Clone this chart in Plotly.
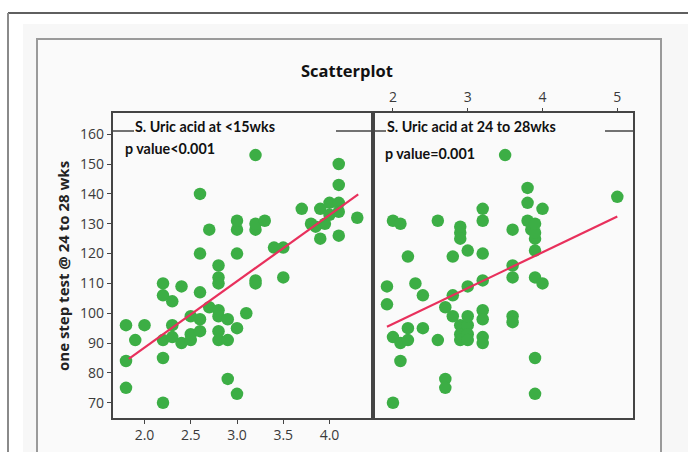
import plotly.graph_objects as go

W, H = 688, 452

# ---------------- data ----------------
left_x = [1.8, 2.0, 1.9, 1.8, 1.8,
          2.2, 2.2, 2.2, 2.2, 2.2,
          2.3, 2.3, 2.3,
          2.4, 2.4,
          2.5, 2.5, 2.5,
          2.6, 2.6, 2.6, 2.6, 2.6,
          2.7, 2.7,
          2.8, 2.8, 2.8, 2.8, 2.8, 2.8, 2.8,
          2.9, 2.9, 2.9,
          3.0, 3.0, 3.0, 3.0, 3.0,
          3.1,
          3.2, 3.2, 3.2, 3.2, 3.2,
          3.3,
          3.4, 3.5, 3.5,
          3.7, 3.8, 3.85, 3.9, 3.9, 3.95, 4.0, 4.0, 4.1, 4.1, 4.1, 4.1, 4.1, 4.3]
left_y = [96, 96, 91, 84, 75,
          70, 85, 91, 110, 106,
          104, 96, 92,
          109, 90,
          99, 91, 93,
          120, 107, 98, 94, 140,
          128, 102,
          116, 112, 110, 101, 99, 94, 91,
          98, 91, 78,
          73, 95, 120, 128, 131,
          100,
          111, 110, 128, 130, 153,
          131,
          122, 122, 112,
          135, 130, 129, 135, 125, 130, 137, 133, 137, 134, 126, 143, 150, 132]

right_x = [1.92, 1.92, 2.0, 2.1, 2.2, 2.2, 2.1, 2.0, 2.2, 2.3, 2.4, 2.4, 2.6, 2.7, 2.7, 2.7,
           2.8, 2.8, 2.8,
           2.9, 2.9, 2.9, 3.0, 3.0, 3.0,
           2.9, 2.9, 2.9, 3.0, 3.0, 3.0,
           3.2, 3.2, 3.2, 3.2, 3.2, 3.2, 3.2, 3.2,
           3.6, 3.6, 3.6, 3.6, 3.6,
           3.9, 3.9, 3.9, 4.0, 3.9, 3.9, 3.85, 3.9,
           2.6, 2.0, 2.1, 3.5, 3.8, 3.8, 4.0, 5.0, 3.8, 3.9]
right_y = [109, 103, 92, 90, 91, 95, 84, 70, 119, 110, 106, 95, 91, 78, 75, 102,
           99, 106, 119,
           96, 93, 91, 96, 93, 91,
           127, 125, 129, 121, 109, 99,
           120, 111, 101, 98, 92, 90, 135, 131,
           128, 116, 112, 99, 97,
           85, 73, 112, 110, 121, 125, 128, 127,
           131, 131, 130, 153, 142, 137, 135, 139, 131, 130]

# fitted regression lines (end points)
left_fit_x = [1.83, 4.31]
left_fit_y = [84.7, 139.8]
right_fit_x = [1.92, 5.0]
right_fit_y = [95.5, 132.4]

left_ticks = [2.0, 2.5, 3.0, 3.5, 4.0]
left_ticktext = ["2.0", "2.5", "3.0", "3.5", "4.0"]
right_ticks = [2, 3, 4, 5]
y_ticks = [70, 80, 90, 100, 110, 120, 130, 140, 150, 160]

title = "Scatterplot"
y_title = "one step test @ 24 to 28 wks"
left_label = "S. Uric acid at &lt;15wks"
left_p = "p value&lt;0.001"
right_label = "S. Uric acid at 24 to 28wks"
right_p = "p value=0.001"

GREEN = "#3cae45"
RED = "#e8305c"
AXC = "#444444"


def px(x):
    return x / W


def py(y):
    return 1 - y / H


fig = go.Figure()

mk = dict(color=GREEN, size=12.5, line=dict(width=0))
fig.add_trace(go.Scatter(x=left_x, y=left_y, mode="markers", marker=mk,
                         xaxis="x", yaxis="y", showlegend=False, hoverinfo="skip"))
fig.add_trace(go.Scatter(x=left_fit_x, y=left_fit_y, mode="lines",
                         line=dict(color=RED, width=2.2),
                         xaxis="x", yaxis="y", showlegend=False, hoverinfo="skip"))
fig.add_trace(go.Scatter(x=right_x, y=right_y, mode="markers", marker=mk,
                         xaxis="x2", yaxis="y2", showlegend=False, hoverinfo="skip"))
fig.add_trace(go.Scatter(x=right_fit_x, y=right_fit_y, mode="lines",
                         line=dict(color=RED, width=2.2),
                         xaxis="x2", yaxis="y2", showlegend=False, hoverinfo="skip"))

tickfont = dict(family="Open Sans", size=14, color="#3a3a3a")
ydom = [py(417.7), py(113.3)]

fig.update_layout(
    width=W, height=H,
    margin=dict(l=0, r=0, t=0, b=0),
    paper_bgcolor="white",
    plot_bgcolor="#fdfdfd",
    xaxis=dict(domain=[px(112.5), px(373)], range=[1.654, 4.47], anchor="y", side="bottom",
               tickvals=left_ticks, ticktext=left_ticktext, ticks="outside", ticklen=4,
               tickcolor=AXC, tickwidth=1.3, showline=True, mirror=True, linecolor=AXC,
               linewidth=1.6, showgrid=False, zeroline=False, tickfont=tickfont),
    yaxis=dict(domain=ydom, range=[65, 167], anchor="x", tickvals=y_ticks, ticks="outside",
               ticklen=4, tickcolor=AXC, tickwidth=1.3, showline=True, mirror=True,
               linecolor=AXC, linewidth=1.6, showgrid=False, zeroline=False, tickfont=tickfont),
    xaxis2=dict(domain=[px(373), px(633)], range=[1.733, 5.21], anchor="y2", side="top",
                tickvals=right_ticks, ticks="outside", ticklen=4, tickcolor=AXC, tickwidth=1.3,
                showline=True, mirror=True, linecolor=AXC, linewidth=1.6, showgrid=False,
                zeroline=False, tickfont=tickfont),
    yaxis2=dict(domain=ydom, range=[65, 167], anchor="x2", showticklabels=False, ticks="",
                showline=True, mirror=True, linecolor=AXC, linewidth=1.6, showgrid=False,
                zeroline=False),
)

shapes = [
    # light background region
    dict(type="rect", xref="paper", yref="paper", x0=px(23), x1=px(700), y0=py(24), y1=py(470),
         fillcolor="#f7f7f7", line=dict(width=0), layer="below"),
    # inner frame
    dict(type="rect", xref="paper", yref="paper", x0=px(37), x1=px(661), y0=py(39), y1=py(470),
         fillcolor="#fafafa", line=dict(color="#9a9a9a", width=2), layer="below"),
    # outer frame
    dict(type="line", xref="paper", yref="paper", x0=px(8), x1=px(700), y0=py(13), y1=py(13),
         line=dict(color="#2a2a2a", width=1.5)),
    dict(type="line", xref="paper", yref="paper", x0=px(8), x1=px(8), y0=py(13), y1=py(470),
         line=dict(color="#8a8a8a", width=2)),
    # strip lines
    dict(type="line", xref="paper", yref="paper", x0=px(112.5), x1=px(134), y0=py(131), y1=py(131),
         line=dict(color=AXC, width=1.5)),
    dict(type="line", xref="paper", yref="paper", x0=px(336), x1=px(373), y0=py(131), y1=py(131),
         line=dict(color=AXC, width=1.5)),
    dict(type="line", xref="paper", yref="paper", x0=px(373), x1=px(386), y0=py(131), y1=py(131),
         line=dict(color=AXC, width=1.5)),
    dict(type="line", xref="paper", yref="paper", x0=px(605), x1=px(633), y0=py(131), y1=py(131),
         line=dict(color=AXC, width=1.5)),
]
fig.update_layout(shapes=shapes)

lab_font = dict(family="Lato", size=14.3, color="#111111")
ann = [
    dict(text="<b>%s</b>" % title, x=px(347), y=py(70), xref="paper", yref="paper",
         showarrow=False, xanchor="center", yanchor="middle",
         font=dict(family="Open Sans", size=16.5, color="#111111")),
    dict(text="<b>%s</b>" % y_title, x=px(63), y=py(266), xref="paper", yref="paper",
         showarrow=False, textangle=-90, xanchor="center", yanchor="middle",
         font=dict(family="Open Sans", size=15, color="#222222")),
    dict(text="<b>%s</b>" % left_label, x=px(133), y=py(127), xref="paper", yref="paper",
         showarrow=False, xanchor="left", yanchor="middle", font=lab_font),
    dict(text="<b>%s</b>" % left_p, x=px(123), y=py(148), xref="paper", yref="paper",
         showarrow=False, xanchor="left", yanchor="middle", font=lab_font),
    dict(text="<b>%s</b>" % right_label, x=px(385), y=py(127), xref="paper", yref="paper",
         showarrow=False, xanchor="left", yanchor="middle", font=lab_font),
    dict(text="<b>%s</b>" % right_p, x=px(383), y=py(153), xref="paper", yref="paper",
         showarrow=False, xanchor="left", yanchor="middle", font=lab_font),
]
fig.update_layout(annotations=ann)

fig.write_html("out.html")
